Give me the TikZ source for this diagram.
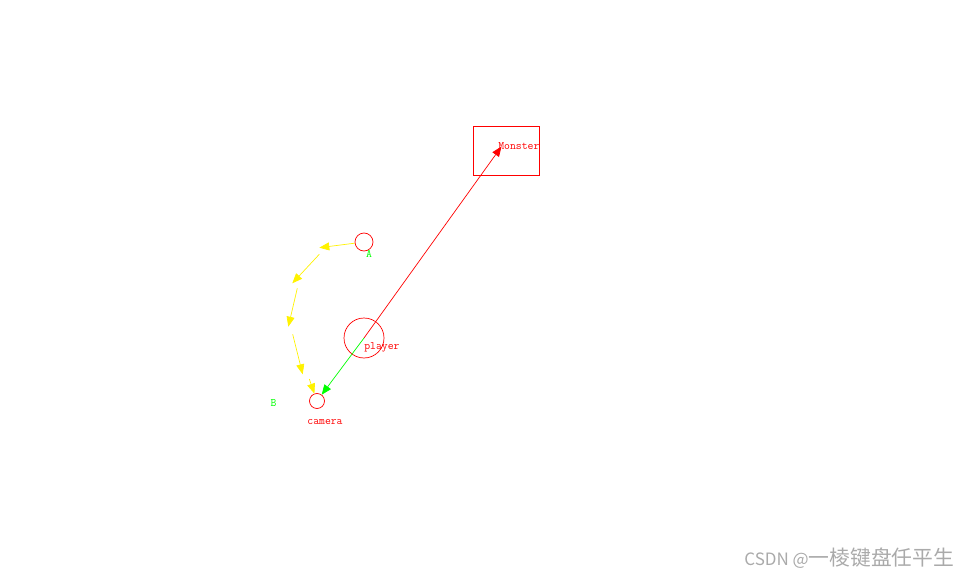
\documentclass[tikz,border=0pt]{standalone}
\usepackage{fontspec}
\newfontfamily\cjkfont{Noto Sans CJK SC}
\usetikzlibrary{arrows.meta,positioning}
\definecolor{wm}{RGB}{170,170,170}
\begin{document}
\begin{tikzpicture}[
		x = 1pt, y = -1pt, line width = 0.7pt,
		ring/.style = {draw = red, circle, inner sep = 0pt},
		lbl/.style = {inner sep = 0pt, font = \ttfamily\fontsize{11.4}{13}\selectfont},
		tip/.style = {-{Triangle[length = 10pt, width = 8pt]}}
	]
	\useasboundingbox (0,0) rectangle (970,578);

	\node (a) [ring, minimum size = 18pt] at (364,242) {};
	\node (p) [ring, minimum size = 40pt] at (364,338) {};
	\node (c) [ring, minimum size = 15pt] at (317,401) {};
	\node (m) [draw = red, inner sep = 0pt, minimum width = 66pt, minimum height = 49pt] at (506.3,151) {};
	\coordinate (t) at (501.5,146.5);

	\node (la) [lbl, text = green] at (369,254) {A};
	\node (lb) [lbl, text = green] at (273.5,403) {B};
	\node (lp) [lbl, text = red, anchor = base west] at (364,349) {player};
	\node (lc) [lbl, text = red, below = 10.5pt of c, xshift = 8pt] {camera};
	\node (lm) [lbl, text = red, anchor = base west] at (498,149.5) {Monster};

	\coordinate (y2) at (319.3,247.7);
	\coordinate (y3) at (319.3,254.3);
	\coordinate (y4) at (292.3,283.3);
	\coordinate (y5) at (297.3,288.3);
	\coordinate (y6) at (288.3,326.7);
	\coordinate (y7) at (292.7,334.3);
	\coordinate (y8) at (302.7,374.3);
	\coordinate (y9) at (309.3,379);

	\path [yellow, tip]
	(a) edge (y2)
	(y3) edge (y4)
	(y5) edge (y6)
	(y7) edge (y8)
	(y9) edge (c);

	\path [red, tip] (p.center) edge (t);
	\path [green, tip] (p.center) edge (c);

	\node (w) [anchor = base west, inner sep = 0pt, text = wm] at (744,565.7) {\cjkfont\fontsize{17}{20}\selectfont CSDN @{\fontsize{20.8}{20}\selectfont 一棱键盘任平生}};
\end{tikzpicture}
\end{document}
